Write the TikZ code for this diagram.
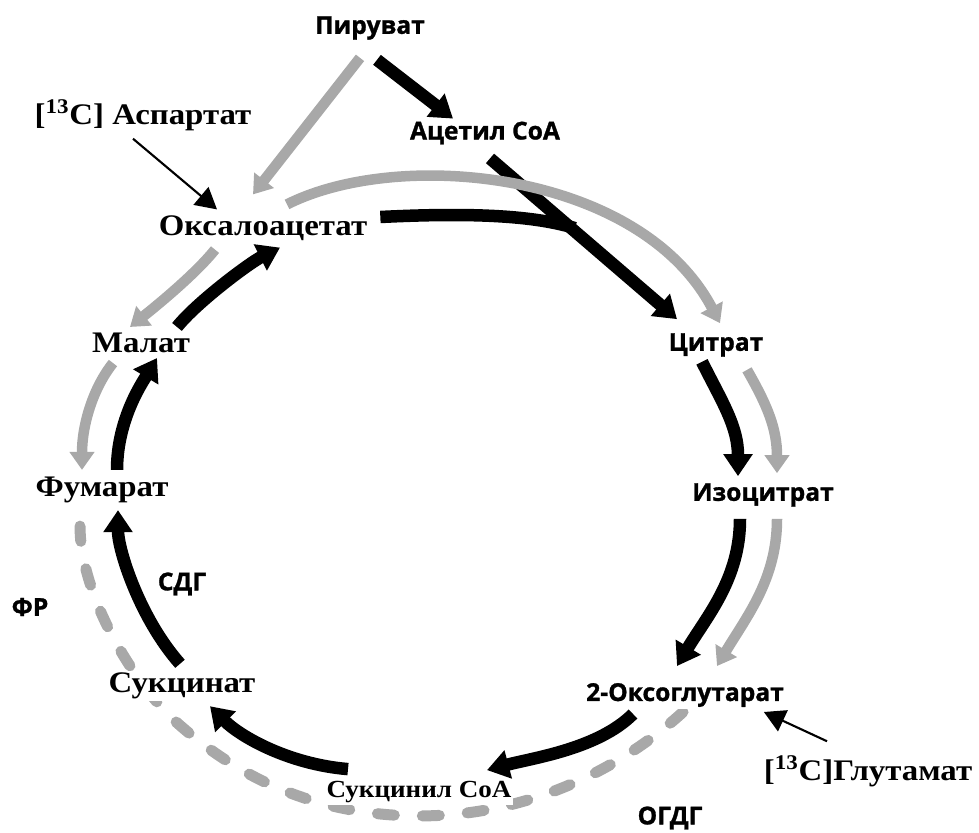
\documentclass[tikz,border=0pt]{standalone}
\usepackage{fontspec}
\usepackage{tikz}
\usetikzlibrary{calc,arrows.meta,backgrounds}

\newfontfamily\labelserif[FakeStretch=1.1]{Liberation Serif}
\newfontfamily\labelsans[BoldFont={Open Sans Bold}, BoldFeatures={FakeBold=1.2}]{Open Sans}
\definecolor{pathgray}{gray}{0.66}

\tikzset{
  serif/.style={font=\labelserif\bfseries\fontsize{17}{19}\selectfont, inner sep=1pt, fill=white},
  sans/.style={font=\labelsans\bfseries\fontsize{14}{16}\selectfont, inner sep=1pt, fill=white},
  blkline/.style={line width=0.25cm},
  blk/.style={blkline, -{Triangle[width=0.56cm,length=0.44cm]}},
  gry/.style={pathgray, line width=0.21cm, -{Triangle[width=0.48cm,length=0.36cm]}},
  gdash/.style={pathgray, line width=0.22cm, line cap=round, dash pattern=on 0.34cm off 0.56cm},
  feed/.style={line width=1.2pt, -{Triangle[width=0.46cm,length=0.42cm]}}
}

\begin{document}
\begin{tikzpicture}[x=0.02cm,y=-0.02cm]
    \useasboundingbox (0,0) rectangle (979,832);

    % Metabolites
    \node[sans] (pyr) at (370,28) {Пируват};
    \node[sans] (acoa) at (485,133) {Ацетил CoA};
    \node[serif] (asp) at (143,115) {[\textsuperscript{13}C] Аспартат};
    \node[serif] (oaa) at (263,228) {Оксалоацетат};
    \node[serif] (mal) at (141,343) {Малат};
    \node[sans] (cit) at (716,345) {Цитрат};
    \node[serif] (fum) at (102,490) {Фумарат};
    \node[sans] (iso) at (763,495) {Изоцитрат};
    \node[serif] (suc) at (182,686) {Сукцинат};
    \node[sans] (oxg) at (685,695) {2-Оксоглутарат};
    \node[serif, font=\labelserif\bfseries\fontsize{14}{16}\selectfont] (sucoa) at (419,792) {Сукцинил CoA};
    \node[serif] (glu) at (868,771) {[\textsuperscript{13}C]Глутамат};

    % Enzymes
    \node[sans] (sdg) at (182,584) {СДГ};
    \node[sans] (fr) at (30,607) {ФР};
    \node[sans] (ogdg) at (670,818) {ОГДГ};

    % Black arrows
    \draw[blk] ($(pyr.south)+(7,18)$) -- ($(acoa.north)+(-32,-1)$);
    \draw[blk] ($(acoa.south)+(5,12)$) -- ($(cit.north)+(-39,-12)$);
    \draw[blkline] ($(oaa.east)+(11,-11)$) .. controls +(80,-4) and +(-45,-14) .. ($(cit.north)+(-141,-103)$);
    \draw[blk] ($(cit.south)+(-14,3)$) .. controls +(20,40) and +(0,-50) .. ($(iso.north)+(-25,-5)$);
    \draw[blk] ($(iso.south)+(-23,10)$) .. controls +(0,60) and +(30,-50) .. ($(oxg.north)+(-8,-15)$);
    \draw[blk] ($(oxg.south)+(-52,5)$) .. controls +(-35,35) and +(45,-12) .. ($(sucoa.north)+(68,-9)$);
    \draw[blk] ($(sucoa.north)+(-71,-10)$) .. controls +(-60,-5) and +(30,30) .. ($(suc.south)+(28,5)$);
    \draw[blk] ($(suc.north)+(-2,-7)$) .. controls +(-40,-45) and +(0,40) .. ($(fum.south)+(16,5)$);
    \draw[blk] ($(fum.north)+(15,-5)$) .. controls +(0,-50) and +(-15,25) .. ($(mal.south)+(16,3)$);
    \draw[blk] ($(mal.north)+(36,-4)$) .. controls +(20,-25) and +(-30,15) .. ($(oaa.south)+(17,5)$);

    % Gray arrows
    \draw[gry] ($(pyr.south)+(-10,16)$) -- ($(oaa.north)+(-10,-19)$);
    \draw[gry] ($(oaa.north)+(24,-9)$) .. controls +(113,-57) and +(-80,-152) .. ($(cit.north)+(4,-8)$);
    \draw[gry] ($(cit.south)+(31,11)$) .. controls +(20,35) and +(0,-45) .. ($(iso.north)+(14,-8)$);
    \draw[gry] ($(iso.south)+(14,10)$) .. controls +(0,60) and +(30,-50) .. ($(oxg.north)+(32,-15)$);
    \draw[gry] ($(oaa.south)+(-48,7)$) .. controls +(-20,25) and +(25,-20) .. ($(mal.north)+(-11,-4)$);
    \draw[gry] ($(mal.south)+(-28,8)$) .. controls +(-20,25) and +(0,-45) .. ($(fum.north)+(-20,-5)$);
    \begin{pgfonlayer}{background}
        \draw[gdash] ($(oxg.south)+(-2,3)$) .. controls +(-60,55) and +(110,0) .. ($(sucoa.south)+(1,11)$)
            .. controls +(-110,0) and +(60,55) .. ($(suc.south)+(-10,17)$)
            .. controls +(-50,-50) and +(0,60) .. ($(fum.south)+(-22,21)$);
    \end{pgfonlayer}

    % Labelled substrates
    \draw[feed] ($(asp.south)+(-10,6)$) -- ($(oaa.north)+(-46,-4)$);
    \draw[feed] ($(glu.north)+(-41,-12)$) -- ($(oxg.south east)+(-22,3)$);
\end{tikzpicture}
\end{document}
